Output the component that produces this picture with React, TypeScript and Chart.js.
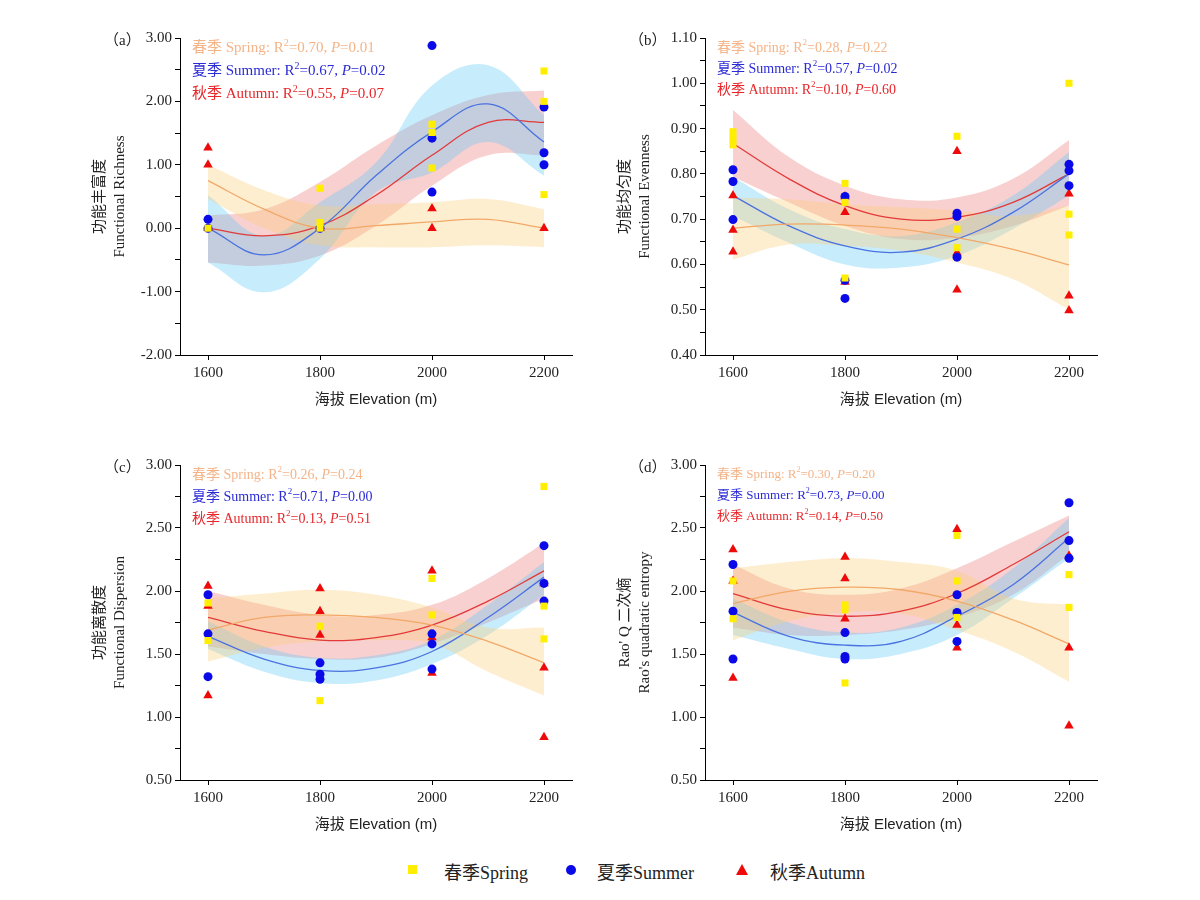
import React, { useEffect, useRef } from "react";
import { Chart, registerables } from "chart.js";
Chart.register(...registerables);

const elevations = [1600, 1800, 2000, 2200];
const fitX = [1600, 1700, 1800, 1900, 2000, 2100, 2200];

// Panel (a) Functional Richness
const richSpring = [[0], [0.63, 0.09, 0], [1.64, 1.51, 0.95], [2.48, 2.0, 0.53]];
const richSummer = [[0.14, 0], [0], [2.88, 1.42, 0.57], [1.91, 1.19, 1.0]];
const richAutumn = [[1.27, 1.0, 0], [0], [0.31, 0], [0]];
const richSpringFit = [0.75, 0.3, 0.0, 0.04, 0.1, 0.14, 0.0];
const richSpringHi = [1.0, 0.6, 0.36, 0.38, 0.41, 0.46, 0.3];
const richSpringLo = [0.46, 0.0, -0.27, -0.3, -0.3, -0.27, -0.3];
const richSummerFit = [0.0, -0.42, 0.0, 0.83, 1.52, 1.96, 1.36];
const richSummerHi = [0.52, -0.12, 0.41, 1.04, 2.25, 2.57, 1.78];
const richSummerLo = [-0.54, -1.01, -0.48, 0.57, 0.88, 1.36, 0.83];
const richAutumnFit = [0.0, -0.12, 0.04, 0.52, 1.15, 1.67, 1.67];
const richAutumnHi = [0.2, 0.3, 0.73, 1.3, 1.78, 2.1, 2.17];
const richAutumnLo = [-0.54, -0.59, -0.43, 0.04, 0.67, 1.15, 1.15];

// Panel (b) Functional Evenness
const evenSpring = [[0.893, 0.878, 0.864], [0.779, 0.737, 0.57], [0.883, 0.678, 0.637], [1.0, 0.711, 0.665]];
const evenSummer = [[0.809, 0.783, 0.699], [0.75, 0.565, 0.525], [0.713, 0.706, 0.616], [0.821, 0.807, 0.774]];
const evenAutumn = [[0.752, 0.676, 0.628], [0.75, 0.715, 0.561], [0.85, 0.626, 0.544], [0.756, 0.531, 0.498]];
const evenSpringFit = [0.68, 0.689, 0.687, 0.678, 0.659, 0.633, 0.599];
const evenSpringHi = [0.748, 0.744, 0.733, 0.726, 0.719, 0.707, 0.73];
const evenSpringLo = [0.611, 0.644, 0.641, 0.63, 0.604, 0.567, 0.5];
const evenSummerFit = [0.752, 0.685, 0.641, 0.627, 0.656, 0.715, 0.8];
const evenSummerHi = [0.793, 0.722, 0.678, 0.663, 0.693, 0.752, 0.848];
const evenSummerLo = [0.707, 0.648, 0.6, 0.593, 0.619, 0.678, 0.752];
const evenAutumnFit = [0.867, 0.789, 0.73, 0.7, 0.704, 0.737, 0.8];
const evenAutumnHi = [0.941, 0.837, 0.774, 0.744, 0.748, 0.789, 0.874];
const evenAutumnLo = [0.793, 0.737, 0.685, 0.656, 0.659, 0.685, 0.73];

// Panel (c) Functional Dispersion
const dispSpring = [[1.905, 1.607], [1.72, 1.13], [2.1, 1.81], [2.83, 1.88, 1.62]];
const dispSummer = [[1.97, 1.66, 1.32], [1.43, 1.34, 1.3], [1.66, 1.58, 1.38], [2.36, 2.06, 1.92]];
const dispAutumn = [[2.04, 1.88, 1.17], [2.02, 1.84, 1.65], [2.16, 1.63, 1.35], [2.06, 1.39, 0.84]];
const dispSpringFit = [1.69, 1.79, 1.81, 1.79, 1.73, 1.6, 1.43];
const dispSpringHi = [1.94, 1.98, 2.01, 1.97, 1.87, 1.71, 1.71];
const dispSpringLo = [1.44, 1.55, 1.6, 1.61, 1.58, 1.36, 1.17];
const dispSummerFit = [1.64, 1.46, 1.37, 1.39, 1.52, 1.79, 2.11];
const dispSummerHi = [1.76, 1.56, 1.47, 1.49, 1.61, 1.89, 2.23];
const dispSummerLo = [1.54, 1.36, 1.27, 1.29, 1.42, 1.65, 1.97];
const dispAutumnFit = [1.79, 1.68, 1.61, 1.63, 1.73, 1.92, 2.16];
const dispAutumnHi = [2.0, 1.89, 1.81, 1.81, 1.89, 2.1, 2.38];
const dispAutumnLo = [1.56, 1.5, 1.46, 1.47, 1.58, 1.75, 1.94];

// Panel (d) Rao's Q
const raoSpring = [[2.08, 1.78], [1.89, 1.85, 1.27], [2.44, 2.08, 1.79], [2.13, 1.87]];
const raoSummer = [[2.21, 1.84, 1.46], [1.67, 1.48, 1.46], [1.97, 1.83, 1.6], [2.7, 2.4, 2.26]];
const raoAutumn = [[2.33, 2.08, 1.31], [2.27, 2.1, 1.78], [2.49, 1.73, 1.55], [2.28, 1.55, 0.93]];
const raoSpringFit = [1.9, 1.997, 2.03, 2.01, 1.92, 1.77, 1.58];
const raoSpringHi = [2.18, 2.23, 2.26, 2.23, 2.16, 1.94, 1.89];
const raoSpringLo = [1.61, 1.76, 1.83, 1.82, 1.69, 1.52, 1.28];
const raoSummerFit = [1.83, 1.64, 1.57, 1.6, 1.8, 2.05, 2.42];
const raoSummerHi = [1.94, 1.75, 1.67, 1.71, 1.89, 2.18, 2.58];
const raoSummerLo = [1.65, 1.54, 1.46, 1.5, 1.65, 1.94, 2.26];
const raoAutumnFit = [1.98, 1.85, 1.8, 1.84, 1.98, 2.21, 2.47];
const raoAutumnHi = [2.21, 2.02, 1.97, 2.02, 2.18, 2.39, 2.6];
const raoAutumnLo = [1.71, 1.65, 1.65, 1.69, 1.79, 1.97, 2.29];

const seasonLabels = ["春季 Spring", "夏季 Summer", "秋季 Autumn"];
const statsA = [["0.70", "0.01"], ["0.67", "0.02"], ["0.55", "0.07"]];
const statsB = [["0.28", "0.22"], ["0.57", "0.02"], ["0.10", "0.60"]];
const statsC = [["0.26", "0.24"], ["0.71", "0.00"], ["0.13", "0.51"]];
const statsD = [["0.30", "0.20"], ["0.73", "0.00"], ["0.14", "0.50"]];

const STAT_COLORS = ["#F4B488", "#2B2BD6", "#E8262A"];
const LINE_COLORS = ["#F2A868", "#4A72E0", "#E23A3A"];
const BAND_COLORS = ["rgba(253,205,120,0.35)", "rgba(90,200,245,0.34)", "rgba(236,110,110,0.32)"];
const PT = [
  { color: "#FFEE00", style: "rect", r: 5 },
  { color: "#0A0AE8", style: "circle", r: 4.5 },
  { color: "#EE0A0A", style: "triangle", r: 5.5 },
];
const SERIF = "'Liberation Serif','Noto Sans CJK SC',serif";

type PanelProps = {
  left: number; top: number; plotW: number; plotH: number;
  yMin: number; yMax: number; step: number; major: number;
  label: string; yTitle: string[]; stats: string[][];
  points: number[][][][]; fits: number[][]; his: number[][]; los: number[][];
  statGap: number; statSize: number;
};

function Panel(p: PanelProps) {
  const ref = useRef<HTMLCanvasElement>(null);
  const padL = 130, padT = 20, padR = 20, padB = 70;
  useEffect(() => {
    const datasets: any[] = [];
    p.points.forEach((series, s) => {
      const data: any[] = [];
      series.forEach((vals, i) => vals.forEach((v) => data.push({ x: elevations[i], y: v })));
      datasets.push({
        type: "scatter", data, order: 0,
        backgroundColor: PT[s].color, borderColor: PT[s].color, borderWidth: 0,
        pointStyle: PT[s].style, pointRadius: PT[s].r,
      });
    });
    for (let s = 0; s < 3; s++) {
      datasets.push({
        type: "line", order: 1, data: fitX.map((x, i) => ({ x, y: p.fits[s][i] })),
        borderColor: LINE_COLORS[s], borderWidth: 1.3, pointRadius: 0, tension: 0.4, fill: false,
      });
    }
    for (let s = 0; s < 3; s++) {
      datasets.push({
        type: "line", order: 2 + s, data: fitX.map((x, i) => ({ x, y: p.his[s][i] })),
        borderWidth: 0, borderColor: "transparent", pointRadius: 0, tension: 0.4,
        fill: "+1", backgroundColor: BAND_COLORS[s],
      });
      datasets.push({
        type: "line", order: 2 + s, data: fitX.map((x, i) => ({ x, y: p.los[s][i] })),
        borderWidth: 0, borderColor: "transparent", pointRadius: 0, tension: 0.4, fill: false,
      });
    }
    const textPlugin = {
      id: "texts",
      afterDraw(chart: any) {
        const { ctx, chartArea: a } = chart;
        ctx.save();
        ctx.fillStyle = "#222";
        ctx.font = `15px ${SERIF}`;
        ctx.textAlign = "left";
        ctx.textBaseline = "middle";
        ctx.fillText(p.label, a.left - 76, a.top + 3);
        ctx.save();
        ctx.translate(a.left - 80, (a.top + a.bottom) / 2);
        ctx.rotate(-Math.PI / 2);
        ctx.textAlign = "center";
        ctx.fillText(p.yTitle[0], 0, 0);
        ctx.fillText(p.yTitle[1], 0, 20);
        ctx.restore();
        ctx.textAlign = "center";
        ctx.font = `15px 'Liberation Sans','Noto Sans CJK SC',sans-serif`;
        ctx.fillText("海拔 Elevation (m)", (a.left + a.right) / 2, a.bottom + 45);
        const sz = p.statSize;
        p.stats.forEach((st, i) => {
          let x = a.left + 12;
          const y = a.top + 10 + i * p.statGap;
          ctx.fillStyle = STAT_COLORS[i];
          ctx.textAlign = "left";
          const put = (t: string, font: string, dy = 0) => {
            ctx.font = font;
            ctx.fillText(t, x, y + dy);
            x += ctx.measureText(t).width;
          };
          put(seasonLabels[i] + ": R", `${sz}px ${SERIF}`);
          put("2", `${sz - 5}px ${SERIF}`, -5);
          put("=" + st[0] + ", ", `${sz}px ${SERIF}`);
          put("P", `italic ${sz}px ${SERIF}`);
          put("=" + st[1], `${sz}px ${SERIF}`);
        });
        ctx.restore();
      },
    };
    const chart = new Chart(ref.current!, {
      data: { datasets },
      options: {
        animation: false, responsive: false,
        layout: { padding: { left: 0, top: padT, right: padR, bottom: 0 } },
        plugins: { legend: { display: false }, tooltip: { enabled: false } },
        scales: {
          x: {
            type: "linear", min: 1550, max: 2250,
            afterBuildTicks: (s: any) => { s.ticks = elevations.map((v) => ({ value: v })); },
            afterFit: (s: any) => { s.height = padB; },
            border: { color: "#000", width: 1 },
            grid: { display: true, drawOnChartArea: false, drawTicks: true, tickLength: 5, color: "#000" },
            ticks: { color: "#222", font: { family: SERIF, size: 15 }, padding: 4, callback: (v: any) => String(v) },
          },
          y: {
            type: "linear", min: p.yMin, max: p.yMax,
            afterBuildTicks: (s: any) => {
              const t: any[] = [];
              const n = Math.round((p.yMax - p.yMin) / p.step);
              for (let i = 0; i <= n; i++) t.push({ value: +(p.yMin + i * p.step).toFixed(4) });
              s.ticks = t;
            },
            afterFit: (s: any) => { s.width = padL; },
            border: { color: "#000", width: 1 },
            grid: { display: true, drawOnChartArea: false, drawTicks: true, tickLength: 5, color: "#000" },
            ticks: {
              color: "#222", font: { family: SERIF, size: 15 }, padding: 3, autoSkip: false,
              callback: (v: any) => {
                const r = v / p.major;
                return Math.abs(r - Math.round(r)) < 1e-6 ? Number(v).toFixed(2) : "";
              },
            },
          },
        },
      } as any,
      plugins: [textPlugin],
    });
    return () => chart.destroy();
  }, []);
  const w = p.plotW + padL + padR, h = p.plotH + padT + padB;
  return (
    <canvas ref={ref} width={w} height={h}
      style={{ position: "absolute", left: p.left - padL, top: p.top - padT, width: w, height: h }} />
  );
}

export default function App() {
  const common = { plotW: 392, plotH: 317 };
  return (
    <div style={{ position: "absolute", left: 0, top: 0, width: 1200, height: 900, background: "#fff" }}>
      <Panel {...common} left={180} top={38} yMin={-2} yMax={3} step={0.5} major={1} label="（a）"
        yTitle={["功能丰富度", "Functional Richness"]} stats={statsA}
        points={[richSpring, richSummer, richAutumn]}
        fits={[richSpringFit, richSummerFit, richAutumnFit]}
        his={[richSpringHi, richSummerHi, richAutumnHi]}
        los={[richSpringLo, richSummerLo, richAutumnLo]} statGap={23} statSize={15} />
      <Panel {...common} left={705} top={38} yMin={0.4} yMax={1.1} step={0.05} major={0.1} label="（b）"
        yTitle={["功能均匀度", "Functional Evenness"]} stats={statsB}
        points={[evenSpring, evenSummer, evenAutumn]}
        fits={[evenSpringFit, evenSummerFit, evenAutumnFit]}
        his={[evenSpringHi, evenSummerHi, evenAutumnHi]}
        los={[evenSpringLo, evenSummerLo, evenAutumnLo]} statGap={21} statSize={14} />
      <Panel {...common} plotH={315} left={180} top={465} yMin={0.5} yMax={3} step={0.25} major={0.5} label="（c）"
        yTitle={["功能离散度", "Functional Dispersion"]} stats={statsC}
        points={[dispSpring, dispSummer, dispAutumn]}
        fits={[dispSpringFit, dispSummerFit, dispAutumnFit]}
        his={[dispSpringHi, dispSummerHi, dispAutumnHi]}
        los={[dispSpringLo, dispSummerLo, dispAutumnLo]} statGap={22} statSize={14} />
      <Panel {...common} plotH={315} left={705} top={465} yMin={0.5} yMax={3} step={0.25} major={0.5} label="（d）"
        yTitle={["Rao' Q 二次熵", "Rao's quadratic entropy"]} stats={statsD}
        points={[raoSpring, raoSummer, raoAutumn]}
        fits={[raoSpringFit, raoSummerFit, raoAutumnFit]}
        his={[raoSpringHi, raoSummerHi, raoAutumnHi]}
        los={[raoSpringLo, raoSummerLo, raoAutumnLo]} statGap={21} statSize={13} />
      <div style={{ position: "absolute", top: 858, left: 0, width: 1200, height: 24, fontFamily: SERIF, fontSize: 18, color: "#222" }}>
        <div style={{ position: "absolute", left: 408, top: 7, width: 9, height: 9, background: "#FFEE00" }} />
        <span style={{ position: "absolute", left: 444, top: 0 }}>春季Spring</span>
        <div style={{ position: "absolute", left: 566, top: 7, width: 10, height: 10, borderRadius: 5, background: "#0A0AE8" }} />
        <span style={{ position: "absolute", left: 597, top: 0 }}>夏季Summer</span>
        <div style={{ position: "absolute", left: 736, top: 6, width: 0, height: 0, borderLeft: "6px solid transparent", borderRight: "6px solid transparent", borderBottom: "11px solid #EE0A0A" }} />
        <span style={{ position: "absolute", left: 770, top: 0 }}>秋季Autumn</span>
      </div>
    </div>
  );
}
